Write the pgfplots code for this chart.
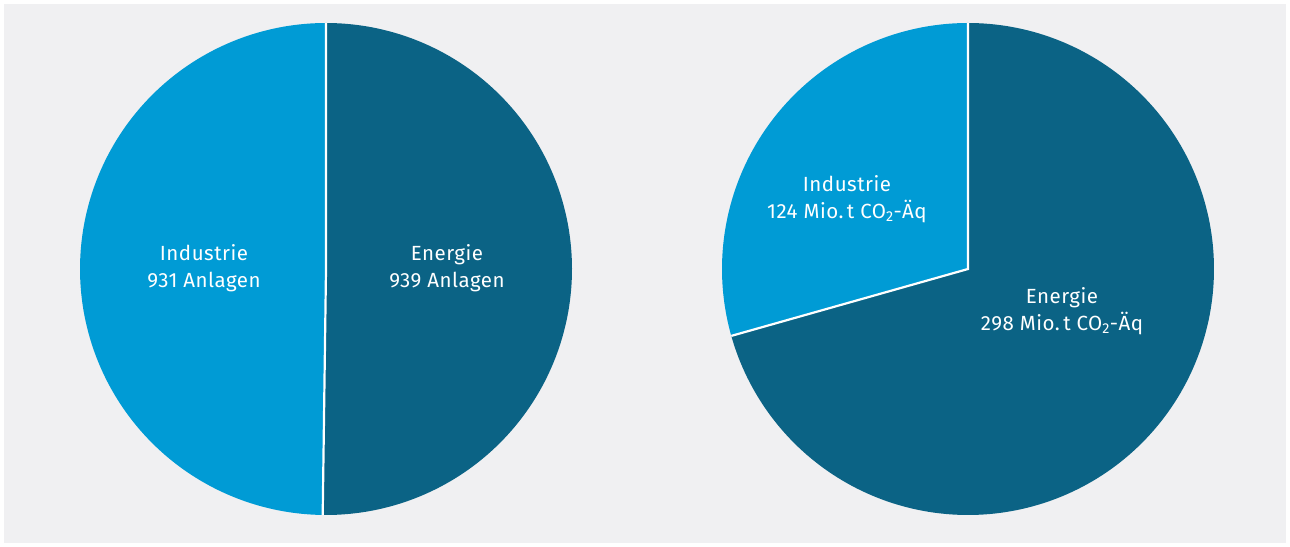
\documentclass[border=0pt]{standalone}
\usepackage{pgfplots}
\pgfplotsset{compat=1.18}
\usepackage{fontspec}
\setmainfont{Fira Sans}
\newfontfamily\labfont[LetterSpace=2.5]{Fira Sans}
\definecolor{bg}{HTML}{F0F0F2}
\definecolor{light}{HTML}{009BD5}
\definecolor{dark}{HTML}{0B6385}
\begin{document}
\begin{tikzpicture}
% data
\def\IndA{931}\def\EnA{939}
\def\IndB{124}\def\EnB{298}
\pgfmathsetmacro{\cutA}{90-360*(\EnA/(\IndA+\EnA))}
\pgfmathsetmacro{\cutB}{90+360*(\IndB/(\IndB+\EnB))}
\begin{axis}[scale only axis, width=1290pt, height=546pt, at={(0,0)}, anchor=south west,
  xmin=0, xmax=1290, ymin=0, ymax=546, hide axis, clip=false]
\fill[bg] (axis cs:4,3) rectangle (axis cs:1286,542);
% left pie
\addplot[draw=none, fill=dark, domain=\cutA:90, samples=200]
  ({326+246*cos(x)},{277+246*sin(x)}) -- (axis cs:326,277) -- cycle;
\addplot[draw=none, fill=light, domain=90:360+\cutA, samples=200]
  ({326+246*cos(x)},{277+246*sin(x)}) -- (axis cs:326,277) -- cycle;
% right pie
\addplot[draw=none, fill=light, domain=90:\cutB, samples=200]
  ({968+246*cos(x)},{277+246*sin(x)}) -- (axis cs:968,277) -- cycle;
\addplot[draw=none, fill=dark, domain=\cutB:450, samples=200]
  ({968+246*cos(x)},{277+246*sin(x)}) -- (axis cs:968,277) -- cycle;
% separators
\draw[white, line width=2.2pt] (axis cs:326,523) -- (axis cs:326,277)
  -- (axis cs:{326+246*cos(\cutA)},{277+246*sin(\cutA)});
\draw[white, line width=2.2pt] (axis cs:968,523) -- (axis cs:968,277)
  -- (axis cs:{968+246*cos(\cutB)},{277+246*sin(\cutB)});
% labels
\tikzset{lab/.style={text=white, align=center, inner sep=0pt, font=\labfont\fontsize{20.5}{27.5}\selectfont}}
\node[lab] at (axis cs:204,278) {Industrie\\931 Anlagen};
\node[lab] at (axis cs:447,278) {Energie\\939 Anlagen};
\node[lab] at (axis cs:847,347) {Industrie\\124 Mio.\,t CO\textsubscript{2}-Äq};
\node[lab] at (axis cs:1062,235) {Energie\\298 Mio.\,t CO\textsubscript{2}-Äq};
\end{axis}
\pgfresetboundingbox
\path (0,0) rectangle (1290pt,546pt);
\end{tikzpicture}
\end{document}
